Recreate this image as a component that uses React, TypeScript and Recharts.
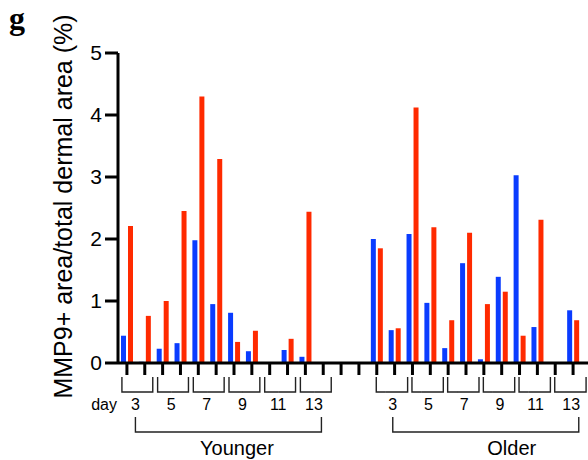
import { BarChart, Bar, XAxis, YAxis } from "recharts";

// days sampled, two animals per day
const days = [3, 5, 7, 9, 11, 13];

// MMP9+ area / total dermal area (%), two slots per day
const youngerBlue = [0.44, 0.02, 0.23, 0.32, 1.98, 0.95, 0.81, 0.19, null, 0.21, 0.1, null];
const youngerRed = [2.21, 0.76, 1.0, 2.45, 4.3, 3.29, 0.34, 0.52, null, 0.39, 2.44, null];
const olderBlue = [2.0, 0.53, 2.08, 0.97, 0.24, 1.61, 0.06, 1.39, 3.03, 0.58, null, 0.85];
const olderRed = [1.85, 0.56, 4.12, 2.19, 0.69, 2.1, 0.95, 1.15, 0.44, 2.31, null, 0.69];

const yTicks = [0, 1, 2, 3, 4, 5];

const FONT = "'Liberation Sans', Arial, sans-serif";
const BLUE = "#0a3cff";
const RED = "#ff2a00";
const TICK = 12;

type Group = "Younger" | "Older" | "";
type Row = {
  slot: string;
  group: Group;
  day: number | null;
  first: boolean;
  blue: number | null;
  red: number | null;
};

const rows: Row[] = [];
const addGroup = (group: Group, blue: (number | null)[], red: (number | null)[]) => {
  blue.forEach((b, i) => {
    const day = days[Math.floor(i / 2)];
    rows.push({ slot: `${group}-${day}-${(i % 2) + 1}`, group, day, first: i % 2 === 0, blue: b, red: red[i] });
  });
};
addGroup("Younger", youngerBlue, youngerRed);
rows.push({ slot: "gap-1", group: "", day: null, first: false, blue: null, red: null });
rows.push({ slot: "gap-2", group: "", day: null, first: false, blue: null, red: null });
addGroup("Older", olderBlue, olderRed);

// hand-drawn annotation offsets (relative to tick x)
const OFFS: Record<string, { l: number; r: number; label: number; title: number }> = {
  Younger: { l: -5, r: 8, label: 8.5, title: 110 },
  Older: { l: -0.5, r: 13, label: 16, title: 135 },
};

function SlotTick(props: any) {
  const { x, y, payload } = props;
  const row = rows[payload.index];
  if (!row || !row.group) return null;
  const axisY = y - TICK;
  const o = OFFS[row.group];
  const top = axisY + 14;
  const bot = axisY + 29;
  const half = 9;
  const line = { stroke: "#222", strokeWidth: 1.4, fill: "none" };

  return (
    <g>
      {row.first ? (
        <>
          <path d={`M${x + o.l},${top} V${bot} H${x + half}`} {...line} />
          <text x={x + o.label} y={axisY + 47} textAnchor="middle" fontSize={16} fontFamily={FONT} fill="#000">
            {row.day}
          </text>
        </>
      ) : (
        <path d={`M${x - half},${bot} H${x + o.r} V${top}`} {...line} />
      )}
      {row.first && row.day === 3 && (
        <>
          <path
            d={`M${x + o.label},${axisY + 54} V${axisY + 69} H${x + o.label + 186} V${axisY + 54}`}
            {...line}
          />
          <text x={x + o.title} y={axisY + 92} textAnchor="middle" fontSize={20} fontFamily={FONT} fill="#000">
            {row.group}
          </text>
          {row.group === "Younger" && (
            <text x={x - 10} y={axisY + 47} textAnchor="end" fontSize={16} fontFamily={FONT} fill="#000">
              day
            </text>
          )}
        </>
      )}
    </g>
  );
}

function YTitle() {
  return (
    <g>
      <text
        x={9}
        y={29}
        style={{ fontSize: 32, fontWeight: 700, fontFamily: "'Liberation Serif', 'DejaVu Serif', serif" }}
        fill="#000"
      >
        g
      </text>
      <text
        x={71.5}
        y={206.5}
        transform="rotate(-90 71.5 206.5)"
        textAnchor="middle"
        fontSize={25}
        fontFamily={FONT}
        fill="#000"
      >
        MMP9+ area/total dermal area (%)
      </text>
    </g>
  );
}

export default function App() {
  return (
    <div style={{ position: "absolute", left: 0, top: 0, width: 588, height: 460, background: "#fff" }}>
      <BarChart
        width={588}
        height={460}
        data={rows}
        margin={{ top: 53, right: 0, bottom: 0, left: 0 }}
        barSize={5}
        barGap={2}
      >
        <XAxis
          dataKey="slot"
          interval={0}
          height={97}
          padding={{ left: 0, right: 6 }}
          axisLine={{ stroke: "#000", strokeWidth: 3 }}
          tickLine={{ stroke: "#000", strokeWidth: 3 }}
          tickSize={TICK}
          tickMargin={0}
          tick={<SlotTick />}
        />
        <YAxis
          width={118}
          domain={[0, 5]}
          ticks={yTicks}
          interval={0}
          axisLine={{ stroke: "#000", strokeWidth: 3 }}
          tickLine={{ stroke: "#000", strokeWidth: 3 }}
          tickSize={13}
          tickMargin={3}
          tick={{ fontSize: 21, fontFamily: FONT, fill: "#000" }}
          label={<YTitle />}
        />
        <Bar dataKey="blue" fill={BLUE} isAnimationActive={false} />
        <Bar dataKey="red" fill={RED} isAnimationActive={false} />
      </BarChart>
    </div>
  );
}
